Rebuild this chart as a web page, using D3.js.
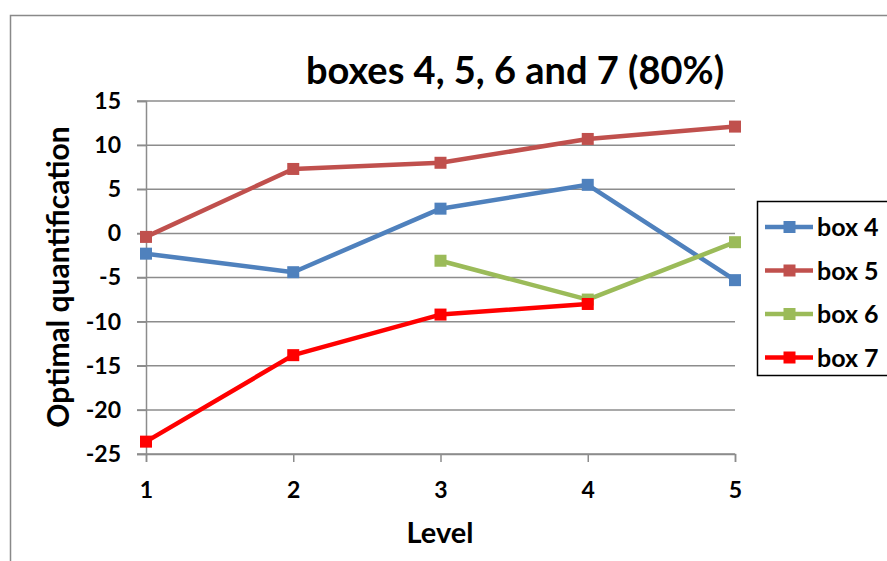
<!DOCTYPE html>
<html><head><meta charset="utf-8">
<script src="https://cdnjs.cloudflare.com/ajax/libs/d3/7.8.5/d3.min.js"></script>
<style>body{margin:0;background:#fff}svg{display:block}text{font-family:Lato,"Open Sans",sans-serif;font-weight:bold;fill:#000}</style>
</head><body>
<script>
const levels = [1, 2, 3, 4, 5];
const yTicks = [15, 10, 5, 0, -5, -10, -15, -20, -25];
const seriesNames = ["box 4", "box 5", "box 6", "box 7"];
const seriesColors = ["#4F81BD", "#C0504D", "#9BBB59", "#FF0000"];
const box4 = [-2.3, -4.4, 2.8, 5.5, -5.3];
const box5 = [-0.4, 7.3, 8.0, 10.7, 12.1];
const box6 = [null, null, -3.1, -7.5, -1.0];
const box7 = [-23.6, -13.8, -9.2, -8.0, null];
const allSeries = [box4, box5, box6, box7];

const W = 887, H = 561;
const svg = d3.select("body").append("svg").attr("width", W).attr("height", H);

// chart frame
svg.append("rect").attr("x", 10.5).attr("y", 15.5).attr("width", 900).attr("height", 600)
  .attr("fill", "none").attr("stroke", "#898989").attr("stroke-width", 1.5);

const x = d3.scaleLinear().domain([1, 5]).range([146, 735]);
const y = d3.scaleLinear().domain([-25, 15]).range([454, 101]);
const fmt = d => String(d);

// gridlines
const grid = svg.append("g");
grid.selectAll("line").data(yTicks).join("line")
  .attr("x1", 137).attr("x2", 735)
  .attr("y1", d => y(d)).attr("y2", d => y(d))
  .attr("stroke", "#8C8C8C").attr("stroke-width", 1.5);

// y axis
const yAxis = svg.append("g").attr("transform", "translate(146,0)")
  .call(d3.axisLeft(y).tickValues(yTicks).tickSize(9).tickPadding(16).tickFormat(fmt));
yAxis.select(".domain").attr("stroke", "#8C8C8C").attr("stroke-width", 1.5);
yAxis.selectAll(".tick line").attr("stroke", "#8C8C8C").attr("stroke-width", 1.5);
yAxis.selectAll("text").style("font-size", "23px").style("font-family", "Lato,sans-serif").style("font-weight", "bold").attr("fill", "#000");

// x axis
const xAxis = svg.append("g").attr("transform", "translate(0,454)")
  .call(d3.axisBottom(x).tickValues(levels).tickSize(8).tickPadding(20).tickFormat(fmt));
xAxis.select(".domain").attr("stroke", "#8C8C8C").attr("stroke-width", 1.5);
xAxis.selectAll(".tick line").attr("stroke", "#8C8C8C").attr("stroke-width", 1.5);
xAxis.selectAll("text").style("font-size", "23px").style("font-family", "Lato,sans-serif").style("font-weight", "bold").attr("fill", "#000");

// series
const line = d3.line().defined(d => d.v !== null).x(d => x(d.l)).y(d => y(d.v));
allSeries.forEach((vals, i) => {
  const pts = levels.map((l, j) => ({l, v: vals[j]}));
  svg.append("path").datum(pts).attr("d", line).attr("fill", "none")
    .attr("stroke", seriesColors[i]).attr("stroke-width", 4.5).attr("stroke-linejoin", "round");
  svg.append("g").selectAll("rect").data(pts.filter(d => d.v !== null)).join("rect")
    .attr("x", d => x(d.l) - 6).attr("y", d => y(d.v) - 6)
    .attr("width", 12).attr("height", 12).attr("fill", seriesColors[i]);
});

// title
svg.append("text").attr("x", 515).attr("y", 84).attr("text-anchor", "middle")
  .style("font-size", "38px").text("boxes 4, 5, 6 and 7 (80%)");

// axis titles
svg.append("text").attr("transform", "translate(69,277) rotate(-90)").attr("text-anchor", "middle")
  .style("font-size", "30px").text("Optimal quantification");
svg.append("text").attr("x", 440).attr("y", 543).attr("text-anchor", "middle")
  .style("font-size", "29px").text("Level");

// legend
svg.append("rect").attr("x", 757.5).attr("y", 201.5).attr("width", 200).attr("height", 174)
  .attr("fill", "#fff").attr("stroke", "#000").attr("stroke-width", 1.5);
const leg = svg.append("g").selectAll("g").data(seriesNames).join("g")
  .attr("transform", (d, i) => `translate(765,${227 + i * 43.5})`);
leg.append("line").attr("x1", 0).attr("x2", 48).attr("stroke", (d, i) => seriesColors[i]).attr("stroke-width", 4.5);
leg.append("rect").attr("x", 18.5).attr("y", -6).attr("width", 12).attr("height", 12).attr("fill", (d, i) => seriesColors[i]);
leg.append("text").attr("x", 52).attr("y", 9).style("font-size", "25px").text(d => d);
</script>
</body></html>
